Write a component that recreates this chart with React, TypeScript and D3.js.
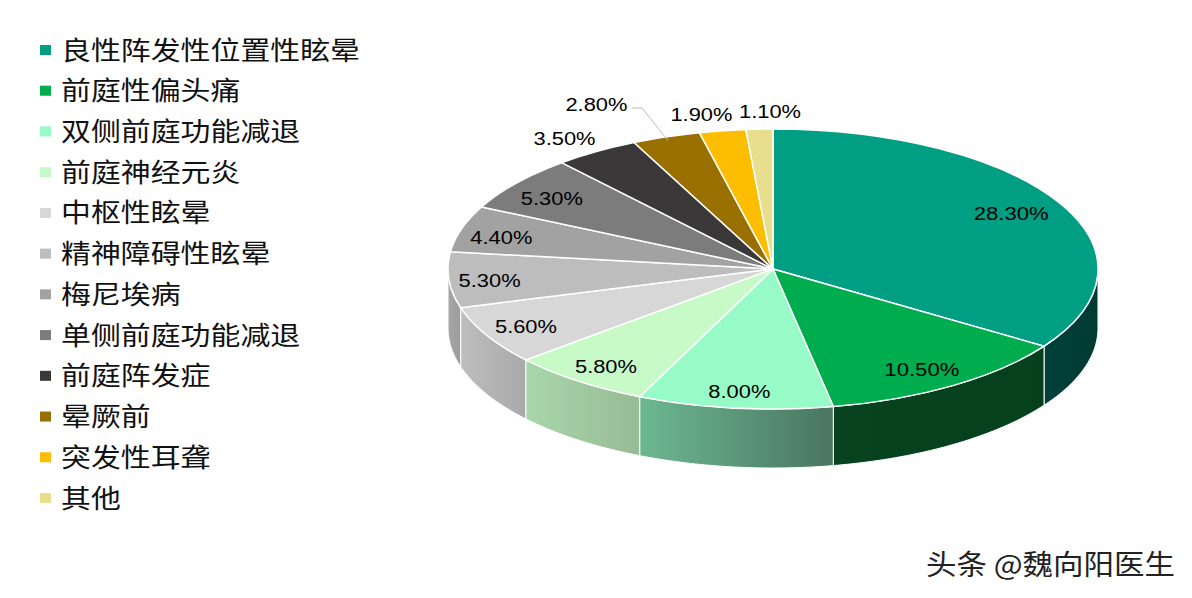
import React, { useEffect, useRef } from "react";
import * as d3 from "d3";

const categories = [
  "良性阵发性位置性眩晕",
  "前庭性偏头痛",
  "双侧前庭功能减退",
  "前庭神经元炎",
  "中枢性眩晕",
  "精神障碍性眩晕",
  "梅尼埃病",
  "单侧前庭功能减退",
  "前庭阵发症",
  "晕厥前",
  "突发性耳聋",
  "其他",
];
const values = [28.3, 10.5, 8.0, 5.8, 5.6, 5.3, 4.4, 5.3, 3.5, 2.8, 1.9, 1.1];
const topColors = [
  "#009e83", "#00ad4e", "#96fbc6", "#c8fac8", "#d7d7d7", "#bdbdbd",
  "#a2a2a2", "#7c7c7c", "#3a3838", "#997000", "#fdbd00", "#e8df8e",
];
// side wall gradient, left and right colour
const wallColors: [string, string][] = [
  ["#01403a", "#003a33"],
  ["#07431f", "#03401b"],
  ["#6cb891", "#4a7561"],
  ["#a9d6ab", "#97bb94"],
  ["#bebebe", "#a9a9a9"],
  ["#a6a6a6", "#9c9c9c"],
];
// label nudges in px, the source chart placed these by hand
const labelNudge: [number, number][] = [
  [15, -3], [5, 8], [-3, 12], [-11, 8], [-18, 5], [-8, 3],
  [-7, 3], [-3, 3], [-14, -1], [-59, -19], [-16, -2], [12, -3],
];
const labelRadius = [0.78, 0.8, 0.8, 0.8, 0.8, 0.85, 0.85, 0.85, 1.1, 1.1, 1.1, 1.1];

const WIDTH = 1192;
const HEIGHT = 598;

export default function App() {
  const ref = useRef<SVGSVGElement | null>(null);

  useEffect(() => {
    const svg = d3.select(ref.current);
    svg.selectAll("*").remove();

    const cx = 773;
    const cy = 269;
    const rx = 325;
    const ry = 140;
    const depth = 59;

    const pie = d3.pie<number>().sort(null).value((d) => d);
    const arcs = pie(values);

    const px = (a: number, k = 1) => cx + rx * k * Math.sin(a);
    const py = (a: number, k = 1) => cy - ry * k * Math.cos(a);

    const defs = svg.append("defs");

    // walls, only the front half of the ellipse can be seen
    const walls = svg.append("g");
    arcs.forEach((d, i) => {
      const a0 = Math.max(d.startAngle, Math.PI / 2);
      const a1 = Math.min(d.endAngle, (Math.PI * 3) / 2);
      if (a1 <= a0) return;
      const gradId = `wall${i}`;
      const grad = defs.append("linearGradient").attr("id", gradId);
      grad.append("stop").attr("offset", "0%").attr("stop-color", wallColors[i][0]);
      grad.append("stop").attr("offset", "100%").attr("stop-color", wallColors[i][1]);
      const p = d3.path();
      p.moveTo(px(a0), py(a0));
      p.lineTo(px(a0), py(a0) + depth);
      const steps = 40;
      const angle = d3.scaleLinear().domain([0, steps]).range([a0, a1]);
      d3.range(1, steps + 1).forEach((s) => p.lineTo(px(angle(s)), py(angle(s)) + depth));
      p.lineTo(px(a1), py(a1));
      d3.range(steps - 1, -1, -1).forEach((s) => p.lineTo(px(angle(s)), py(angle(s))));
      p.closePath();
      walls
        .append("path")
        .attr("d", p.toString())
        .attr("fill", `url(#${gradId})`)
        .attr("stroke", "#fff")
        .attr("stroke-width", 1);
    });

    // top face, a flat pie squashed to an ellipse
    const arcGen = d3.arc<d3.PieArcDatum<number>>().innerRadius(0).outerRadius(rx);
    svg
      .append("g")
      .attr("transform", `translate(${cx},${cy}) scale(1,${ry / rx})`)
      .selectAll("path")
      .data(arcs)
      .join("path")
      .attr("d", (d) => arcGen(d))
      .attr("fill", (_, i) => topColors[i])
      .attr("stroke", "#fff")
      .attr("stroke-width", 1.5)
      .attr("vector-effect", "non-scaling-stroke");

    // leader line of the 2.80% label
    const lead = arcs[9];
    const leadAngle = (lead.startAngle + lead.endAngle) / 2;
    svg
      .append("polyline")
      .attr("points", `632,108 642,108 ${px(leadAngle) + 2},${py(leadAngle) + 4}`)
      .attr("fill", "none")
      .attr("stroke", "#bdbdbd")
      .attr("stroke-width", 1);

    // value labels
    svg
      .append("g")
      .selectAll("text")
      .data(arcs)
      .join("text")
      .attr("x", (d, i) => px((d.startAngle + d.endAngle) / 2, labelRadius[i]) + labelNudge[i][0])
      .attr("y", (d, i) => py((d.startAngle + d.endAngle) / 2, labelRadius[i]) + labelNudge[i][1])
      .attr("text-anchor", "middle")
      .attr("dominant-baseline", "central")
      .attr("font-family", "'Liberation Sans', Arial, sans-serif")
      .attr("font-size", 18)
      .attr("fill", "#000")
      .attr("textLength", (d) => (d.data >= 10 ? 75 : 62))
      .attr("lengthAdjust", "spacingAndGlyphs")
      .text((d) => `${d.data.toFixed(2)}%`);

    // legend
    const rowY = d3.scalePoint<string>().domain(categories).range([50, 498]);
    const legend = svg
      .append("g")
      .selectAll("g")
      .data(categories)
      .join("g")
      .attr("transform", (d) => `translate(40,${rowY(d)})`);
    legend
      .append("rect")
      .attr("x", 0)
      .attr("y", -5)
      .attr("width", 11)
      .attr("height", 10)
      .attr("fill", (_, i) => topColors[i]);
    legend
      .append("text")
      .attr("x", 21)
      .attr("y", -2)
      .attr("dominant-baseline", "central")
      .attr("font-family", "'Noto Sans CJK SC', sans-serif")
      .attr("font-size", 26)
      .attr("fill", "#111")
      .attr("textLength", (d) => d.length * 29.9)
      .attr("lengthAdjust", "spacingAndGlyphs")
      .text((d) => d);

    svg
      .append("text")
      .attr("x", 926)
      .attr("y", 575)
      .attr("font-family", "'Noto Sans CJK SC', sans-serif")
      .attr("font-size", 28)
      .attr("fill", "#222")
      .attr("textLength", 249)
      .attr("lengthAdjust", "spacingAndGlyphs")
      .text("头条 @魏向阳医生");
  }, []);

  return (
    <svg
      ref={ref}
      width={WIDTH}
      height={HEIGHT}
      style={{ position: "absolute", left: 0, top: 0, background: "#fff" }}
    />
  );
}
